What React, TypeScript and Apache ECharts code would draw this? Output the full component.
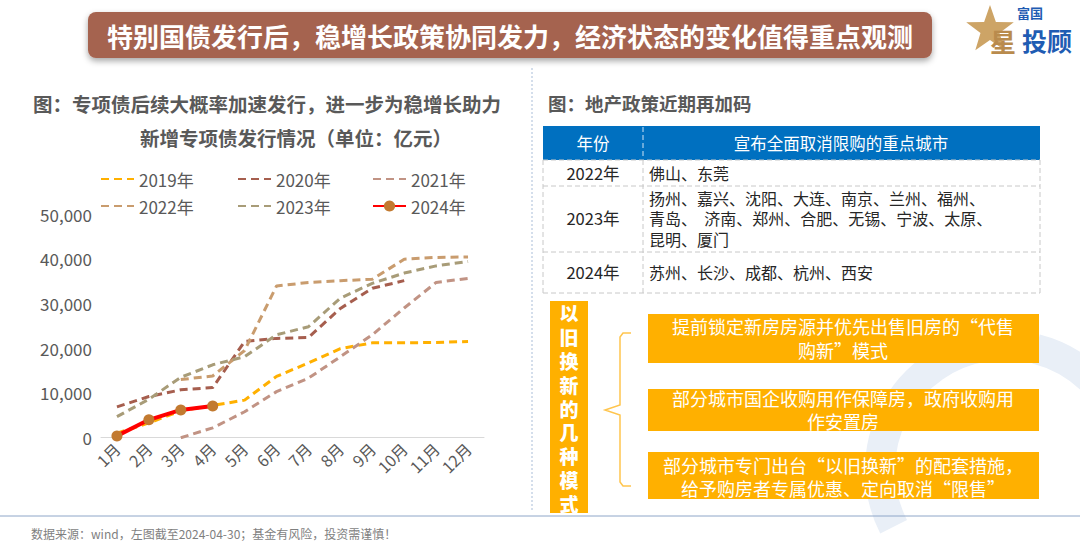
import React, { useEffect, useRef } from "react";
import * as echarts from "echarts";

const months = ["1月", "2月", "3月", "4月", "5月", "6月", "7月", "8月", "9月", "10月", "11月", "12月"];
const s2019 = [1000, 3300, 6000, 7200, 8400, 13700, 16700, 19900, 21200, 21200, 21300, 21500];
const s2020 = [6900, 9200, 10700, 11200, 21500, 22200, 22400, 28900, 33400, 35100, null, null];
const s2021 = [null, null, 0, 2200, 5800, 10300, 13300, 18100, 23000, 29000, 34700, 35600];
const s2022 = [null, null, 13000, 13800, 19500, 33900, 34700, 35100, 35400, 39900, 40300, 40400];
const s2023 = [4700, 8600, 13500, 16300, 18100, 23000, 24800, 31200, 34500, 36800, 38400, 39400];
const s2024 = [400, 4000, 6200, 7100];
const yTicks = [0, 10000, 20000, 30000, 40000, 50000];

const seriesNames = ["2019年", "2020年", "2021年", "2022年", "2023年", "2024年"];
const seriesColors = ["#FFB000", "#A65E4E", "#C19384", "#C99C6E", "#A89C78", "#FF0000"];

const mainTitle = "特别国债发行后，稳增长政策协同发力，经济状态的变化值得重点观测";
const leftTitle1 = "图：专项债后续大概率加速发行，进一步为稳增长助力";
const leftTitle2 = "新增专项债发行情况（单位：亿元）";
const rightTitle = "图：地产政策近期再加码";
const tableHead = ["年份", "宣布全面取消限购的重点城市"];
const tableYears = ["2022年", "2023年", "2024年"];
const tableCities = [
  ["佛山、东莞"],
  ["扬州、嘉兴、沈阳、大连、南京、兰州、福州、", "青岛、  济南、郑州、合肥、无锡、宁波、太原、", "昆明、厦门"],
  ["苏州、长沙、成都、杭州、西安"],
];
const modeTitle = "以旧换新的几种模式";
const modes = [
  ["提前锁定新房房源并优先出售旧房的“代售", "购新”模式"],
  ["部分城市国企收购用作保障房，政府收购用", "作安置房"],
  ["部分城市专门出台“以旧换新”的配套措施，", "给予购房者专属优惠、定向取消“限售”"],
];
const footer = "数据来源：wind，左图截至2024-04-30；基金有风险，投资需谨慎！";

const FONT = "'Noto Sans CJK SC', 'Noto Sans', sans-serif";

export default function App() {
  const ref = useRef<HTMLDivElement>(null);
  useEffect(() => {
    if (!ref.current) return;
    const chart = echarts.init(ref.current, undefined, { renderer: "svg" });

    const txt = (x: number, y: number, text: string, o: any = {}) => ({
      type: "text",
      x,
      y,
      z: o.z ?? 10,
      style: {
        text,
        fill: o.fill ?? "#595959",
        fontSize: o.fontSize ?? 16,
        fontWeight: o.fontWeight ?? "normal",
        fontFamily: FONT,
        textAlign: o.align ?? "left",
        textVerticalAlign: "middle",
        ...(o.lineHeight ? { lineHeight: o.lineHeight } : {}),
      },
    });
    const hline = (x1: number, x2: number, y: number, stroke = "#C8C8C8", dash: any = [5, 3]) => ({
      type: "line",
      z: 5,
      shape: { x1, y1: y, x2, y2: y },
      style: { stroke, lineWidth: 1, lineDash: dash },
    });
    const vline = (x: number, y1: number, y2: number, stroke = "#C8C8C8", dash: any = [5, 3]) => ({
      type: "line",
      z: 5,
      shape: { x1: x, y1, x2: x, y2 },
      style: { stroke, lineWidth: 1, lineDash: dash },
    });

    const graphics: any[] = [];
    // watermark arcs
    graphics.push({
      type: "arc",
      z: 1,
      shape: { cx: 1005, cy: 470, r: 125, startAngle: Math.PI * 0.85, endAngle: Math.PI * 1.45 },
      style: { stroke: "#E9EFF7", lineWidth: 30, fill: null },
    });
    graphics.push({
      type: "arc",
      z: 1,
      shape: { cx: 1005, cy: 470, r: 125, startAngle: Math.PI * 1.58, endAngle: Math.PI * 1.95 },
      style: { stroke: "#E9EFF7", lineWidth: 30, fill: null },
    });
    // header
    graphics.push({
      type: "rect",
      z: 5,
      shape: { x: 88, y: 12, width: 844, height: 46, r: 8 },
      style: { fill: "#A5634F", shadowBlur: 6, shadowColor: "rgba(0,0,0,0.35)", shadowOffsetY: 3 },
    });
    graphics.push(txt(510, 35, mainTitle, { fill: "#FFFFFF", fontSize: 26, fontWeight: "bold", align: "center" }));
    // logo
    const star: number[][] = [];
    for (let i = 0; i < 10; i++) {
      const ang = -Math.PI / 2 + (i * Math.PI) / 5;
      const r = i % 2 === 0 ? 25 : 10;
      star.push([990 + r * Math.cos(ang), 30 + r * Math.sin(ang)]);
    }
    graphics.push({ type: "polygon", z: 6, shape: { points: star }, style: { fill: "#CDA466" } });
    graphics.push(txt(1030, 12, "富国", { fill: "#1F5CB3", fontSize: 13, fontWeight: "bold", align: "center", z: 7 }));
    graphics.push(txt(1003, 40, "星", { fill: "#B98B4D", fontSize: 26, fontWeight: "bold", align: "center", z: 7 }));
    graphics.push(txt(1047, 40, "投顾", { fill: "#1F5CB3", fontSize: 25, fontWeight: "bold", align: "center", z: 7 }));
    // divider
    graphics.push(vline(532, 68, 510, "#A9BDD8", [2, 2]));
    // left titles
    graphics.push(txt(33, 103, leftTitle1, { fontSize: 19.5, fontWeight: "bold" }));
    graphics.push(txt(296, 137, leftTitle2, { fontSize: 19.5, fontWeight: "bold", align: "center" }));
    // right title
    graphics.push(txt(548, 103, rightTitle, { fontSize: 18.5, fontWeight: "bold" }));
    // table
    graphics.push({ type: "rect", z: 4, shape: { x: 543, y: 126, width: 497, height: 34 }, style: { fill: "#0070C0" } });
    graphics.push(vline(643, 127, 159, "#CFE3F5", [5, 3]));
    graphics.push(txt(593, 143, tableHead[0], { fill: "#FFFFFF", fontSize: 16.5, align: "center" }));
    graphics.push(txt(841, 143, tableHead[1], { fill: "#FFFFFF", fontSize: 16.5, align: "center" }));
    const rowLines = [160, 186, 252, 293];
    rowLines.forEach((y) => graphics.push(hline(543, 1040, y)));
    graphics.push(vline(543, 160, 293));
    graphics.push(vline(1040, 160, 293));
    graphics.push(vline(643, 160, 293));
    const rowCenters = [173, 218, 272];
    tableYears.forEach((y, i) => {
      graphics.push(txt(593, rowCenters[i], y, { fill: "#262626", fontSize: 16.5, align: "center" }));
      graphics.push(
        txt(649, rowCenters[i], tableCities[i].join("\n"), { fill: "#262626", fontSize: 16, lineHeight: 20.5 })
      );
    });
    // modes
    graphics.push({ type: "rect", z: 4, shape: { x: 550, y: 301, width: 38, height: 212 }, style: { fill: "#FFB000" } });
    graphics.push(
      txt(569, 408, modeTitle.split("").join("\n"), {
        fill: "#FFFFFF",
        fontSize: 19,
        fontWeight: "900",
        align: "center",
        lineHeight: 23.8,
      })
    );
    graphics.push({
      type: "polyline",
      z: 5,
      shape: {
        points: [[631, 333], [623, 333], [620, 337], [620, 405], [605, 410], [620, 415], [620, 482], [623, 486], [631, 486]],
      },
      style: { stroke: "#FFC54D", lineWidth: 1.5, fill: null },
    });
    const boxes = [
      [314, 49],
      [389, 42],
      [452, 47],
    ];
    const textCenters = [338, 409.5, 476.5];
    const textLH = [24, 23, 23];
    boxes.forEach(([y, h], i) => {
      graphics.push({ type: "rect", z: 4, shape: { x: 648, y, width: 391, height: h }, style: { fill: "#FFB000" } });
      graphics.push(
        txt(843, textCenters[i], modes[i].join("\n"), { fill: "#FFFFFF", fontSize: 18, align: "center", lineHeight: textLH[i] })
      );
    });
    // bottom line & footer
    graphics.push(hline(0, 1080, 516, "#8EA6C8", null));
    graphics.push(txt(31, 533, footer, { fill: "#7F7F7F", fontSize: 12 }));

    const dashed = (name: string, data: any[], color: string, z = 2) => ({
      name,
      type: "line",
      data,
      symbol: "none",
      z,
      lineStyle: { color, width: 3, type: [8, 5] },
      itemStyle: { color },
    });

    const legendBase = {
      orient: "vertical",
      top: 165,
      itemWidth: 33,
      itemHeight: 14,
      itemGap: 9,
      textStyle: { fontSize: 17, color: "#595959", fontFamily: FONT, lineHeight: 18 },
    };
    const noSym = (name: string) => ({ name, itemStyle: { opacity: 0 } });

    chart.setOption({
      animation: false,
      backgroundColor: "#FFFFFF",
      legend: [
        { ...legendBase, left: 95, data: [noSym(seriesNames[0]), noSym(seriesNames[3])] },
        { ...legendBase, left: 232, data: [noSym(seriesNames[1]), noSym(seriesNames[4])] },
        { ...legendBase, left: 367, data: [noSym(seriesNames[2]), { name: seriesNames[5] }] },
      ],
      grid: { left: 101, top: 214, width: 383, height: 223.7, containLabel: false },
      xAxis: {
        type: "category",
        data: months,
        boundaryGap: true,
        axisLine: { lineStyle: { color: "#D9D9D9", width: 1 } },
        axisTick: { show: false },
        axisLabel: { rotate: 45, fontSize: 16, color: "#595959", fontFamily: FONT, margin: 8, interval: 0 },
      },
      yAxis: {
        type: "value",
        min: yTicks[0],
        max: yTicks[yTicks.length - 1],
        interval: 10000,
        splitLine: { show: false },
        axisLine: { show: false },
        axisTick: { show: false },
        axisLabel: {
          fontSize: 17,
          color: "#595959",
          fontFamily: FONT,
          margin: 9,
          formatter: (v: number) => v.toLocaleString("en-US"),
        },
      },
      series: [
        dashed(seriesNames[0], s2019, seriesColors[0]),
        dashed(seriesNames[1], s2020, seriesColors[1]),
        dashed(seriesNames[2], s2021, seriesColors[2]),
        dashed(seriesNames[3], s2022, seriesColors[3]),
        dashed(seriesNames[4], s2023, seriesColors[4]),
        {
          name: seriesNames[5],
          type: "line",
          data: s2024,
          z: 5,
          symbol: "circle",
          symbolSize: 11,
          showSymbol: true,
          lineStyle: { color: seriesColors[5], width: 4 },
          itemStyle: { color: "#C27A30" },
        },
      ],
      graphic: graphics,
    });
    return () => chart.dispose();
  }, []);
  return <div ref={ref} style={{ position: "absolute", left: 0, top: 0, width: 1080, height: 556 }} />;
}
